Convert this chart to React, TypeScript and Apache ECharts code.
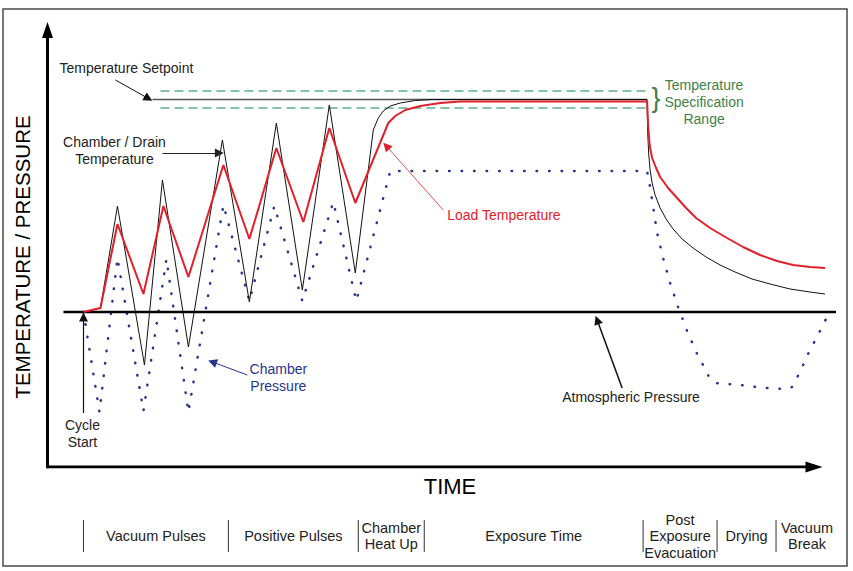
import React, { useEffect, useRef } from "react";
import * as echarts from "echarts";

// Time (x) in arbitrary units from the vertical axis; level (y) in arbitrary units, 0 = atmospheric pressure
const chamberTemp: number[][] = [
  [36, 0], [53, 4], [70, 106], [97, -53], [115, 132], [141, -35], [175, 172], [202, 10],
  [229, 189], [255, 22], [282, 207], [308, 39], [326, 182], [331, 194], [336, 201], [343, 206],
  [353, 209], [368, 211.5], [385, 212.5], [600, 212.5], [600.5, 182], [601.5, 159], [603, 142],
  [605, 129], [608, 117], [613, 104], [619, 93], [626, 83], [635, 73], [646, 64], [659, 55],
  [673, 47], [688, 40], [705, 33], [723, 28], [743, 23], [763, 20], [778, 18],
];
const loadTemp: number[][] = [
  [36, 0], [53, 4], [70, 88], [96, 18], [116, 106], [141, 35], [176, 147], [202, 73],
  [229, 164], [256, 90], [282, 184], [308, 109], [341, 189], [348, 196], [358, 202], [373, 206],
  [393, 209], [413, 210.5], [600, 210.5], [601, 187], [602.5, 167], [605, 154], [609, 144],
  [613, 135], [621, 124], [630, 114], [639, 104], [649, 94], [663, 84], [680, 74], [696, 65],
  [713, 57], [730, 51], [746, 47], [763, 45], [778, 44],
];
const chamberPressure: number[][] = [
  [36, 0], [52, -100], [70, 54], [96, -99], [119, 53], [141, -100], [176, 107], [202, 11],
  [227, 106], [255, 11], [286, 110], [309, 11], [343, 141], [600, 141], [603, 125], [610, 79],
  [616, 54], [623, 29], [631, 5], [640, -19], [650, -42], [657, -55], [662, -65], [668, -71],
  [693, -73], [718, -76], [738, -77], [745, -75], [753, -60], [761, -42], [773, -19], [779, -7],
];
const atmosphericPressure: number[][] = [[16, 0], [789, 0]];
const setpointLevel = 212.5;
const specHalfRange = 8.5;
const setpointSpan = [105, 600];
const specSpan = [113, 600];
const timeAxisEnd = 767;
const phaseBounds = [36, 181, 311, 377, 596, 670, 729, 791];
const phaseNames = [
  "Vacuum Pulses", "Positive Pulses", "Chamber\nHeat Up", "Exposure Time",
  "Post\nExposure\nEvacuation", "Drying", "Vacuum\nBreak",
];

const X_MAX = 793;
const Y_MIN = -155;
const Y_MAX = 282;

const FONT = '"Liberation Sans", Arial, Helvetica, sans-serif';
const BLACK = "#111111";
const RED = "#e0202a";
const NAVY = "#283590";
const GREEN = "#3f7f4a";
const TEAL = "#5fae8c";

const arrows = [
  { from: [68, 232], to: [101, 213.5], color: BLACK, width: 1 },
  { from: [115, 159], to: [172, 159], color: "#222", width: 1.2 },
  { from: [396, 102], to: [339, 166], color: RED, width: 0.8 },
  { from: [200, -63], to: [165, -50], color: NAVY, width: 1 },
  { from: [36, -101], to: [36, -5], color: BLACK, width: 1.2 },
  { from: [575, -76], to: [550, -8], color: BLACK, width: 1.5 },
];

const labels = [
  { text: "Temperature Setpoint", at: [12, 244], align: "left", color: "#222" },
  { text: "Chamber / Drain\nTemperature", at: [67, 162], align: "center", color: "#222" },
  { text: "Load Temperature", at: [400, 97], align: "left", color: RED },
  { text: "Temperature\nSpecification\nRange", at: [657, 210], align: "center", color: GREEN },
  { text: "Chamber\nPressure", at: [231, -65], align: "center", color: NAVY },
  { text: "Cycle\nStart", at: [35, -121], align: "center", color: "#222" },
  { text: "Atmospheric Pressure", at: [515, -85], align: "left", color: "#222" },
];

export default function App() {
  const ref = useRef<HTMLDivElement>(null);

  useEffect(() => {
    const chart = echarts.init(ref.current!, null, { renderer: "svg" });
    const lineSeries = (name: string, data: number[][], lineStyle: any, z = 2) => ({
      type: "line",
      name,
      data,
      showSymbol: false,
      symbol: "none",
      silent: true,
      animation: false,
      lineStyle,
      z,
    });
    chart.setOption({
      animation: false,
      grid: { left: 47.5, right: 13, top: 30, bottom: 104 },
      xAxis: {
        type: "value",
        min: 0,
        max: X_MAX,
        axisLine: { show: false },
        axisTick: { show: false },
        axisLabel: { show: false },
        splitLine: { show: false },
      },
      yAxis: {
        type: "value",
        min: Y_MIN,
        max: Y_MAX,
        axisLine: {
          show: true,
          onZero: false,
          lineStyle: { color: "#000", width: 3 },
          symbol: ["none", "triangle"],
          symbolSize: [11, 16],
        },
        axisTick: { show: false },
        axisLabel: { show: false },
        splitLine: { show: false },
      },
      series: [
        lineSeries("Time axis", [[0, Y_MIN], [timeAxisEnd, Y_MIN]], { color: "#000", width: 3 }, 3),
        {
          type: "scatter",
          name: "Time axis arrow",
          data: [[timeAxisEnd, Y_MIN]],
          symbol: "triangle",
          symbolSize: [11, 17],
          symbolRotate: -90,
          itemStyle: { color: "#000", opacity: 1 },
          silent: true,
          z: 3,
        },
        lineSeries("Spec upper", [[specSpan[0], setpointLevel + specHalfRange], [specSpan[1], setpointLevel + specHalfRange]],
          { color: TEAL, width: 1.3, type: [9, 5] }),
        lineSeries("Spec lower", [[specSpan[0], setpointLevel - specHalfRange], [specSpan[1], setpointLevel - specHalfRange]],
          { color: TEAL, width: 1.3, type: [9, 5] }),
        lineSeries("Setpoint", [[setpointSpan[0], setpointLevel], [setpointSpan[1], setpointLevel]],
          { color: "#555", width: 1.6 }),
        lineSeries("Chamber Pressure", chamberPressure,
          { color: NAVY, width: 2.5, type: [0.5, 12], cap: "round" }),
        lineSeries("Atmospheric Pressure", atmosphericPressure, { color: "#000", width: 2.5 }),
        lineSeries("Chamber / Drain Temperature", chamberTemp, { color: BLACK, width: 1 }),
        lineSeries("Load Temperature", loadTemp, { color: RED, width: 2 }),
        {
          type: "lines",
          coordinateSystem: "cartesian2d",
          silent: true,
          symbol: ["none", "triangle"],
          symbolSize: 9,
          data: arrows.map((a) => ({
            coords: [a.from, a.to],
            lineStyle: { color: a.color, width: a.width },
          })),
          lineStyle: { opacity: 1, curveness: 0 },
          z: 5,
        },
      ],
    });

    const toPx = (p: number[]) => chart.convertToPixel({ gridIndex: 0 }, p) as number[];
    const graphics: any[] = [];
    graphics.push({
      type: "rect",
      shape: { x: 3, y: 9, width: 844, height: 557 },
      style: { fill: "none", stroke: "#4a4a4a", lineWidth: 1.5 },
      silent: true,
      z: 0,
    });
    labels.forEach((l) => {
      const [x, y] = toPx(l.at);
      graphics.push({
        type: "text",
        x,
        y,
        silent: true,
        style: {
          text: l.text,
          fill: l.color,
          font: `14px ${FONT}`,
          align: l.align,
          verticalAlign: "middle",
          lineHeight: 17,
        },
      });
    });
    {
      const [x, y] = toPx([609, 214]);
      graphics.push({
        type: "text",
        x,
        y,
        silent: true,
        style: { text: "}", fill: GREEN, font: `27px ${FONT}`, align: "center", verticalAlign: "middle" },
      });
    }
    graphics.push({
      type: "text",
      x: 22,
      y: 257,
      rotation: Math.PI / 2,
      silent: true,
      style: { text: "TEMPERATURE / PRESSURE", fill: "#000", font: `20.5px ${FONT}`, align: "center", verticalAlign: "middle" },
    });
    graphics.push({
      type: "text",
      x: 450,
      y: 486,
      silent: true,
      style: { text: "TIME", fill: "#000", font: `22px ${FONT}`, align: "center", verticalAlign: "middle" },
    });
    phaseNames.forEach((name, i) => {
      const x0 = toPx([phaseBounds[i], 0])[0];
      const x1 = toPx([phaseBounds[i + 1], 0])[0];
      graphics.push({
        type: "line",
        silent: true,
        shape: { x1: x0, y1: 520, x2: x0, y2: 552 },
        style: { stroke: "#333", lineWidth: 1 },
      });
      graphics.push({
        type: "text",
        x: (x0 + x1) / 2,
        y: 536,
        silent: true,
        style: { text: name, fill: "#222", font: `14.5px ${FONT}`, align: "center", verticalAlign: "middle", lineHeight: 16.5 },
      });
    });
    chart.setOption({ graphic: graphics });

    return () => chart.dispose();
  }, []);

  return (
    <div
      ref={ref}
      style={{ position: "absolute", left: 0, top: 0, width: 853, height: 571, background: "#fff" }}
    />
  );
}
